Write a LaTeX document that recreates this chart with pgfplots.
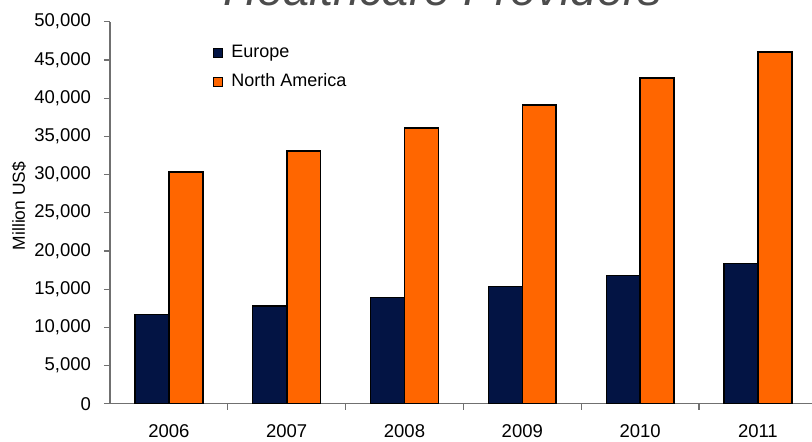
\documentclass[border=0pt]{standalone}
\usepackage{pgfplots}
\pgfplotsset{compat=1.18}
\usepackage{fontspec}
\setmainfont{Liberation Sans}
\definecolor{navy}{HTML}{031444}
\definecolor{orng}{HTML}{FF6600}
\definecolor{axgray}{HTML}{707070}
\begin{document}
\begin{tikzpicture}[x=1pt,y=1pt]
\begin{axis}[
  at={(55pt,18.65pt)}, anchor=south west,
  scale only axis, width=353.4pt, height=191pt,
  xmin=-0.5, xmax=5.5, ymin=0, ymax=50000,
  ybar=0pt, bar width=0.2886,
  axis x line*=bottom, axis y line*=left,
  axis line style={axgray, line width=0.6pt},
  xtick={0,1,2,3,4,5},
  xticklabels={2006,2007,2008,2009,2010,2011},
  major x tick style={draw=none},
  minor xtick={0.5,1.5,2.5,3.5,4.5},
  minor x tick style={axgray, line width=0.6pt},
  minor tick length=3pt,
  ytick={0,5000,...,50000},
  y tick style={axgray, line width=0.6pt},
  major tick length=3pt,
  tick align=outside,
  scaled y ticks=false,
  /pgf/number format/.cd, 1000 sep={,}, assume math mode=true, /pgfplots/.cd,
  tick label style={font=\fontsize{9.25}{11}\selectfont},
  xticklabel style={yshift=-4pt},
  yticklabel style={xshift=-3pt},
  ylabel={Million US\$},
  ylabel style={at={(axis description cs:-0.1287,0.5175)}, anchor=center, font=\fontsize{8.7}{10}\selectfont},
  legend style={draw=none, fill=none, at={(axis description cs:0.1445,0.944)}, anchor=north west,
    font=\fontsize{9}{11}\selectfont, row sep=4.5pt, inner sep=0pt,
    nodes={inner sep=1pt},
    /tikz/every odd column/.append style={column sep=3.5pt}},
  legend cell align=left,
  legend image code/.code={\draw[#1, line width=0.4pt] (0pt,-2.25pt) rectangle (4.5pt,2.25pt);},
]
\addplot[fill=navy, draw=black, line width=0.6pt] coordinates {(0,11700) (1,12800) (2,13900) (3,15300) (4,16800) (5,18400)};
\addplot[fill=orng, draw=black, line width=0.8pt] coordinates {(0,30300) (1,33100) (2,36100) (3,39100) (4,42600) (5,46000)};
\legend{Europe, North America}
\end{axis}
\node[anchor=base, font=\fontsize{23.5}{26}\selectfont\itshape, text=black!70] at (221.5pt,218pt) {Healthcare Providers};
\pgfresetboundingbox
\useasboundingbox (0,0) rectangle (406pt,220.5pt);
\end{tikzpicture}
\end{document}
